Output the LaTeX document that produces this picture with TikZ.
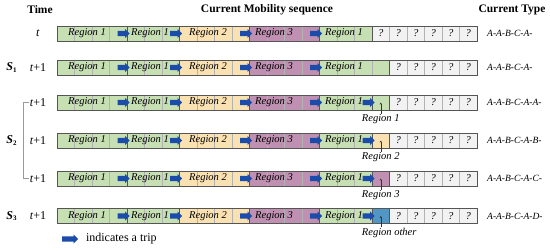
\documentclass[tikz,border=0pt]{standalone}
\usepackage{fontspec}
\setmainfont{Liberation Serif}
\usetikzlibrary{shapes.arrows, arrows.meta, positioning, calc}
\definecolor{RegGreen}{RGB}{198,224,180}
\definecolor{RegYellow}{RGB}{250,225,178}
\definecolor{RegPurple}{RGB}{192,144,178}
\definecolor{RegBlue}{RGB}{82,150,196}
\definecolor{QGray}{RGB}{242,242,242}
\definecolor{TripBlue}{RGB}{28,76,170}
\definecolor{EdgeGray}{RGB}{85,85,85}

\begin{document}
\begin{tikzpicture}[
    x=1pt, y=-1pt,
    head/.style={font=\fontsize{11.5}{13}\selectfont\bfseries},
    timelbl/.style={font=\fontsize{12}{14}\selectfont, inner sep=1pt},
    slbl/.style={font=\fontsize{12}{14}\selectfont},
    cell/.style={draw=black!30, line width=0.4pt, minimum width=17.5pt, minimum height=15pt, inner sep=0pt, outer sep=0pt, font=\fontsize{10.5}{12}\selectfont\itshape},
    reg/.style={font=\fontsize{10.5}{12}\selectfont\itshape, inner sep=0pt},
    trip/.style={single arrow, fill=TripBlue, minimum height=12pt, inner xsep=0pt, inner ysep=2.5pt, single arrow head extend=2pt},
    regline/.style={draw=EdgeGray, line width=0.8pt},
    typelbl/.style={font=\fontsize{9.5}{11}\selectfont\itshape, anchor=west, inner sep=0pt},
    newlbl/.style={font=\fontsize{10.5}{12}\selectfont\itshape, anchor=west, inner sep=1pt},
    pointer/.style={-{Stealth[length=2pt, width=2pt]}, draw=black!80, line width=0.4pt},
    bracket/.style={draw=black!40, line width=0.6pt}
]
\useasboundingbox (0,0) rectangle (550,250);

% headings
\node[head] (h-time) at (40,10) {Time};
\node[head] (h-seq) at (267,10) {Current Mobility sequence};
\node[head] (h-type) at (512,10) {Current Type};

% one mobility sequence per row
\foreach \r/\y/\tm/\nc/\nt/\edges/\ty in {
    a/33.5/{\textit{t}}/QGray/{?}/{4,7,11,15,18}/{A-A-B-C-A-},
    b/67.5/{\textit{t}+1}/RegGreen/{}/{4,7,11,15,19}/{A-A-B-C-A-},
    c/102.5/{\textit{t}+1}/RegGreen/{}/{4,7,11,15,18,19}/{A-A-B-C-A-A-},
    d/140.5/{\textit{t}+1}/RegYellow/{}/{4,7,11,15,18,19}/{A-A-B-C-A-B-},
    e/178.5/{\textit{t}+1}/RegPurple/{}/{4,7,11,15,18,19}/{A-A-B-C-A-C-},
    f/216/{\textit{t}+1}/RegBlue/{}/{4,7,11,15,18,19}/{A-A-B-C-A-D-}}{
  \node[timelbl] (\r-t) at (38,\y) {\tm};
  \foreach \k in {1,...,24}{
    \ifnum\k<8 \def\fc{RegGreen}\def\ft{}%
    \else\ifnum\k<12 \def\fc{RegYellow}\def\ft{}%
    \else\ifnum\k<16 \def\fc{RegPurple}\def\ft{}%
    \else\ifnum\k<19 \def\fc{RegGreen}\def\ft{}%
    \else\ifnum\k=19 \def\fc{\nc}\def\ft{\nt}%
    \else \def\fc{QGray}\def\ft{?}\fi\fi\fi\fi\fi
    \node[cell, fill=\fc] (\r-\k) at (48.25+17.5*\k,\y) {\ft};
  }
  \draw[regline] (\r-1.north west) rectangle (\r-24.south east);
  \foreach \k in \edges
    \draw[regline] (\r-\k.north east) -- (\r-\k.south east);
  \node[reg] (\r-n1) at (87,\y) {Region 1};
  \node[reg] (\r-n2) at (150,\y) {Region 1};
  \node[reg] (\r-n3) at (208,\y) {Region 2};
  \node[reg] (\r-n4) at (274,\y) {Region 3};
  \node[reg] (\r-n5) at (344,\y) {Region 1};
  \foreach \k [count=\i] in {4,7,11,15}
    \node[trip, anchor=tip] (\r-m\i) at ([xshift=3pt]\r-\k.east) {};
  \node[typelbl] (\r-ty) at (487,\y) {\ty};
}

% the next trip in the S2 and S3 rows
\foreach \r/\lb in {c/Region 1, d/Region 2, e/Region 3, f/Region other}{
  \node[trip, anchor=tip] (\r-m5) at ([xshift=3pt]\r-18.east) {};
  \node[newlbl] (\r-lbl) at ($(\r-19)+(-20,17)$) {\lb};
  \draw[pointer] (\r-lbl.north -| \r-19.center) -- (\r-19.center);
}

% scenarios
\node[slbl, left=8pt of b-t] (s1) {\textbf{\textit{S}}\textsubscript{\fontsize{7}{8}\selectfont\textbf{1}}};
\node[slbl, left=8pt of d-t] (s2) {\textbf{\textit{S}}\textsubscript{\fontsize{7}{8}\selectfont\textbf{2}}};
\node[slbl, left=8pt of f-t] (s3) {\textbf{\textit{S}}\textsubscript{\fontsize{7}{8}\selectfont\textbf{3}}};
\draw[bracket] (c-t.west) -- ++(-5,0) |- (e-t.west);

% legend
\node[trip, minimum height=16pt, anchor=west] (lg-trip) at (62,239) {};
\node[font=\fontsize{12}{14}\selectfont, right=4pt of lg-trip] (lg-txt) {indicates a trip};
\end{tikzpicture}
\end{document}
